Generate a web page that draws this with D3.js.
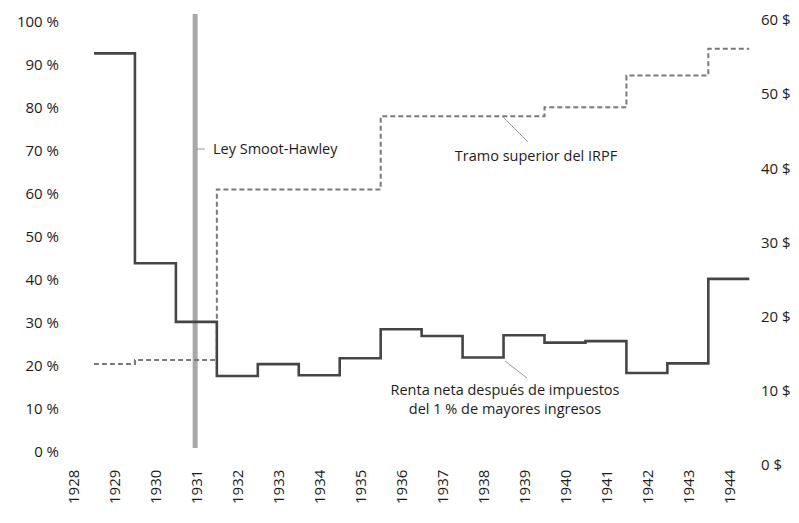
<!DOCTYPE html>
<html lang="es">
<head>
<meta charset="UTF-8">
<title>Smoot-Hawley</title>
<script src="https://cdn.jsdelivr.net/npm/d3@7"></script>
<style>
  body { margin: 0; background: #fff; }
  text { font-family: "Open Sans", "Noto Sans", sans-serif; fill: #1c1c1c; }
</style>
</head>
<body>
<svg id="chart" width="799" height="523"></svg>
<script>
// datos
const years = d3.range(1929, 1945);
// tramo superior del IRPF (%)
const tramoSuperior = [20.4, 21.3, 21.3, 61, 61, 61, 61, 78, 78, 78, 78, 80.1, 80.1, 87.5, 87.5, 93.7];
// renta neta despues de impuestos del 1 % (miles de $)
const rentaNeta = [55.5, 27.2, 19.3, 12.0, 13.6, 12.1, 14.4, 18.3, 17.4, 14.5, 17.5, 16.5, 16.7, 12.4, 13.7, 25.1];
const tickYears = d3.range(1928, 1945);
const pctTicks = d3.range(0, 101, 10);
const usdTicks = d3.range(0, 61, 10);
const smootYear = 1930.97;

const svg = d3.select('#chart');

let x = d3.scaleLinear().domain([1928, 1944]).range([73.5, 728.8]);
let yPct = d3.scaleLinear().domain([0, 100]).range([451.7, 21.7]);
let yUsd = d3.scaleLinear().domain([0, 60]).range([465, 20]);

// ejes (solo etiquetas)
let axL = svg.append('g').attr('transform', 'translate(59,0)')
    .call(d3.axisLeft(yPct).tickValues(pctTicks).tickSize(0).tickPadding(0).tickFormat(d => d + ' %'));
let axR = svg.append('g').attr('transform', 'translate(761,0)')
    .call(d3.axisRight(yUsd).tickValues(usdTicks).tickSize(0).tickPadding(0).tickFormat(d => d + ' $'));
let axB = svg.append('g').attr('transform', 'translate(0,504)')
    .call(d3.axisBottom(x).tickValues(tickYears).tickSize(0).tickFormat(d3.format('d')));
[axL, axR, axB].forEach(a => {
    a.select('.domain').remove();
    a.selectAll('text').style('font-size', '15px').style('font-family', '"Open Sans", sans-serif').attr('fill', '#1c1c1c');
});
axB.selectAll('text')
    .attr('transform', 'rotate(-90)')
    .attr('x', 0).attr('y', 0).attr('dy', '0.35em')
    .style('text-anchor', 'start');

// barra Smoot-Hawley
svg.append('line')
    .attr('x1', x(smootYear)).attr('x2', x(smootYear))
    .attr('y1', 14).attr('y2', 448)
    .attr('stroke', '#a8a8a8').attr('stroke-width', 5);

function stepPoints(vals) {
    let pts = years.map((yr, i) => [yr - 0.5, vals[i]]);
    pts.push([years[years.length - 1] + 0.5, vals[vals.length - 1]]);
    return pts;
}

let linePct = d3.line().x(d => x(d[0])).y(d => yPct(d[1])).curve(d3.curveStepAfter);
let lineUsd = d3.line().x(d => x(d[0])).y(d => yUsd(d[1])).curve(d3.curveStepAfter);

svg.append('path')
    .attr('d', linePct(stepPoints(tramoSuperior)))
    .attr('fill', 'none').attr('stroke', '#7a7a7a')
    .attr('stroke-width', 2).attr('stroke-dasharray', '5,3');

svg.append('path')
    .attr('d', lineUsd(stepPoints(rentaNeta)))
    .attr('fill', 'none').attr('stroke', '#454545')
    .attr('stroke-width', 2.6);

// anotaciones
let ann = svg.append('g').attr('font-size', 14.5);
ann.append('line').attr('x1', 196).attr('y1', 149).attr('x2', 205).attr('y2', 149)
    .attr('stroke', '#999').attr('stroke-width', 1);
ann.append('text').attr('x', 213).attr('y', 154).text('Ley Smoot-Hawley');

ann.append('line').attr('x1', 503).attr('y1', 117).attr('x2', 528).attr('y2', 142)
    .attr('stroke', '#999').attr('stroke-width', 1);
ann.append('text').attr('x', 536).attr('y', 161).attr('text-anchor', 'middle').text('Tramo superior del IRPF');

ann.append('line').attr('x1', 505).attr('y1', 361).attr('x2', 527).attr('y2', 378)
    .attr('stroke', '#999').attr('stroke-width', 1);
ann.append('text').attr('x', 505).attr('y', 395).attr('text-anchor', 'middle').text('Renta neta después de impuestos');
ann.append('text').attr('x', 505).attr('y', 414).attr('text-anchor', 'middle').text('del 1 % de mayores ingresos');
</script>
</body>
</html>
